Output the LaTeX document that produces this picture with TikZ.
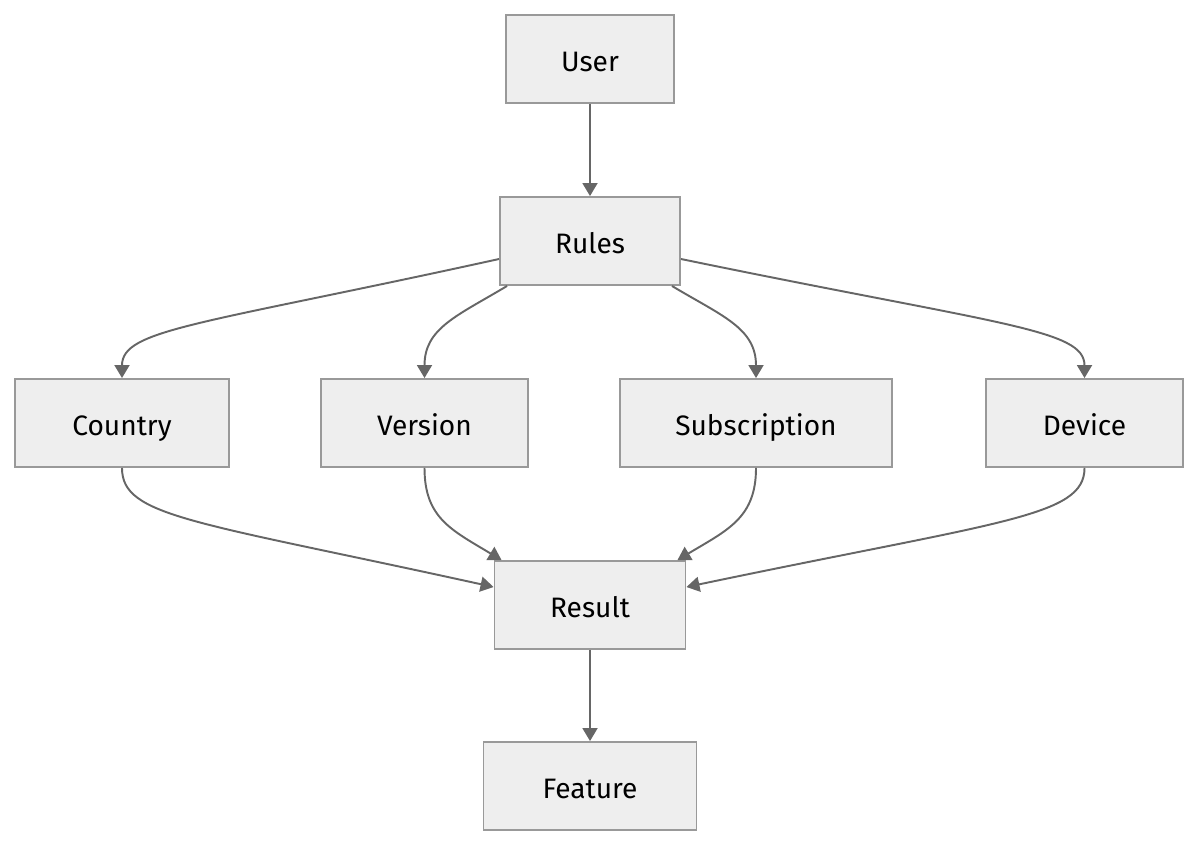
\documentclass[tikz,border=0pt]{standalone}
\usepackage{fontspec}
\setmainfont{Fira Sans}
\usepackage{xcolor}
\usepackage{tikz}
\usetikzlibrary{arrows.meta,positioning,calc}
\definecolor{boxfill}{HTML}{EEEEEE}
\definecolor{boxline}{HTML}{999999}
\definecolor{wire}{HTML}{666666}
\tikzset{
  blk/.style={draw=boxline, fill=boxfill, line width=1.1pt, align=center,
              font=\fontsize{16}{19}\selectfont, inner sep=3pt, minimum height=17.6mm,
              text height=2.9ex, text depth=0.3ex},
  sig/.style={-{Triangle[length=2.6mm,width=3mm]}, line width=1.1pt, draw=wire},
}

\begin{document}
\begin{tikzpicture}
    \useasboundingbox (0,0) rectangle (24,-16.94);
    \node[blk, minimum width=33.6mm] (usr) at (11.80,-1.18) {User};
    \node[blk, minimum width=36mm] (rules) at (11.80,-4.82) {Rules};
    \node[blk, minimum width=42.8mm] (country) at (2.44,-8.46) {Country};
    \node[blk, minimum width=41.4mm] (version) at (8.49,-8.46) {Version};
    \node[blk, minimum width=54.4mm] (subs) at (15.12,-8.46) {Subscription};
    \node[blk, minimum width=39.4mm] (device) at (21.69,-8.46) {Device};
    \node[blk, minimum width=38.2mm] (result) at (11.80,-12.10) {Result};
    \node[blk, minimum width=42.6mm] (feature) at (11.80,-15.72) {Feature};
    \draw[sig] (usr) -- (rules);
    \draw[sig] ([yshift=-3.6mm]rules.west) .. controls +(-6.0,-1.32) and +(0,0.98) .. (country.north);
    \draw[sig] ([xshift=1.6mm]rules.south west) .. controls +(-1.0,-0.6) and +(0,1.0) .. (version.north);
    \draw[sig] ([xshift=-1.8mm]rules.south east) .. controls +(1.0,-0.6) and +(0,1.0) .. (subs.north);
    \draw[sig] ([yshift=-3.6mm]rules.east) .. controls +(6.4,-1.32) and +(0,0.98) .. (device.north);
    \draw[sig] (country.south) .. controls +(0,-0.98) and +(-6.0,1.32) .. ([yshift=3.6mm]result.west);
    \draw[sig] (version.south) .. controls +(0,-1.0) and +(-1.0,0.6) .. ([xshift=1.6mm]result.north west);
    \draw[sig] (subs.south) .. controls +(0,-1.0) and +(1.0,0.6) .. ([xshift=-1.8mm]result.north east);
    \draw[sig] (device.south) .. controls +(0,-0.98) and +(6.3,1.32) .. ([yshift=3.6mm]result.east);
    \draw[sig] (result) -- (feature);
  \end{tikzpicture}
\end{document}
